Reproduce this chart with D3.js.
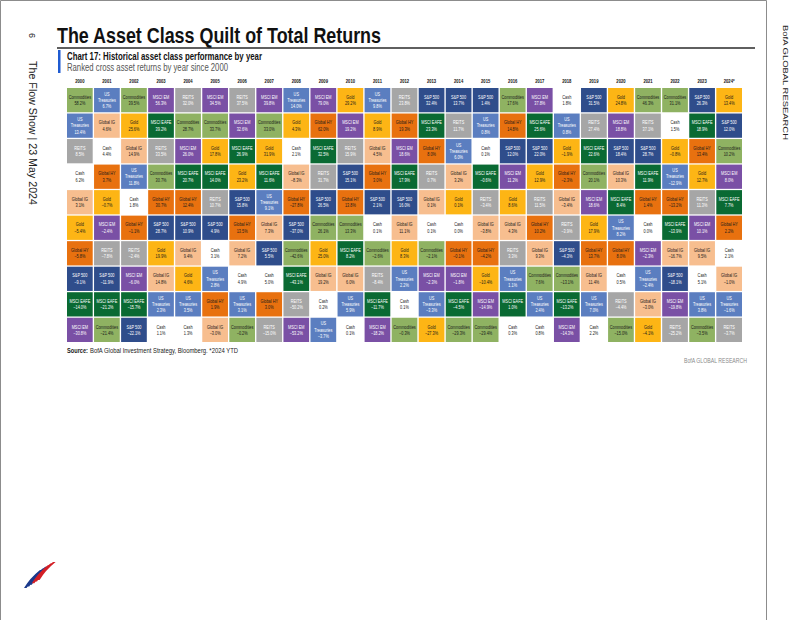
<!DOCTYPE html>
<html>
<head>
<meta charset="utf-8">
<script src="https://cdn.jsdelivr.net/npm/d3@7"></script>
<style>
  html, body { margin: 0; padding: 0; background: #fff; }
  svg { display: block; }
  text { font-family: "Liberation Sans", Arial, sans-serif; }
</style>
</head>
<body>
<div id="chart"></div>
<script>
// years across the top
const years = ["2000","2001","2002","2003","2004","2005","2006","2007","2008","2009",
  "2010","2011","2012","2013","2014","2015","2016","2017","2018","2019",
  "2020","2021","2022","2023","2024*"];

// asset classes
const assetCodes  = ["C", "T", "R", "$", "IG", "G", "HY", "SP", "EA", "EM"];
const assetLabels = ["Commodities", "US|Treasuries", "REITS", "Cash", "Global IG", "Gold", "Global HY", "S&P 500", "MSCI EAFE", "MSCI EM"];
const assetFills  = ["#8fb262", "#5b7ec0", "#a6a6a6", "#ffffff", "#f7be8f", "#fdb515", "#e8710f", "#2f4d8b", "#0a6a33", "#7a50a5"];
const assetInk    = ["#1a1a1a", "#ffffff", "#ffffff", "#1a1a1a", "#1a1a1a", "#1a1a1a", "#1a1a1a", "#ffffff", "#ffffff", "#ffffff"];

// ranking per year, best at top
const rankedAssets = [
  ["C","T","R","$","IG","G","HY","SP","EA","EM"],
  ["T","IG","$","HY","G","EM","R","SP","EA","C"],
  ["C","G","IG","T","$","HY","R","EM","EA","SP"],
  ["EM","EA","R","C","HY","SP","G","IG","T","$"],
  ["R","C","EM","EA","HY","SP","IG","G","T","$"],
  ["EM","C","G","EA","R","SP","$","T","HY","IG"],
  ["R","EM","EA","G","SP","HY","IG","$","T","C"],
  ["EM","C","G","EA","T","IG","SP","$","HY","R"],
  ["T","G","$","IG","HY","SP","C","EA","R","EM"],
  ["EM","HY","EA","R","SP","C","G","IG","$","T"],
  ["G","EM","R","SP","HY","C","EA","IG","T","$"],
  ["T","G","IG","HY","SP","$","C","R","EA","EM"],
  ["R","HY","EM","EA","SP","IG","G","T","$","C"],
  ["SP","EA","HY","R","IG","$","C","EM","T","G"],
  ["SP","R","T","IG","G","$","HY","EM","EA","C"],
  ["SP","T","$","EA","R","IG","HY","G","EM","C"],
  ["C","HY","SP","EM","G","IG","R","T","EA","$"],
  ["EM","EA","SP","G","R","HY","IG","C","T","$"],
  ["$","T","G","HY","IG","R","SP","C","EA","EM"],
  ["SP","R","EA","C","EM","G","HY","IG","T","$"],
  ["G","EM","SP","IG","EA","T","HY","$","R","C"],
  ["C","R","SP","EA","HY","$","EM","T","IG","G"],
  ["C","$","G","T","HY","EA","IG","SP","EM","R"],
  ["SP","EA","HY","G","R","EM","IG","$","T","C"],
  ["G","SP","C","EM","EA","HY","$","IG","T","R"]
];

// total returns (%) in the same order
const rankedReturns = [
  [58.2, 13.4, 8.5, 6.2, 3.1, -5.4, -5.8, -9.1, -14.0, -30.8],
  [6.7, 4.6, 4.4, 3.7, -0.7, -2.4, -7.8, -11.9, -21.2, -21.4],
  [39.5, 25.6, 14.9, 11.8, 1.8, -1.1, -2.4, -6.0, -15.7, -22.1],
  [56.3, 39.2, 33.5, 30.7, 30.7, 28.7, 19.9, 14.8, 2.3, 1.1],
  [32.0, 28.7, 26.0, 20.7, 12.4, 10.9, 9.4, 4.6, 3.5, 1.3],
  [34.5, 33.7, 17.8, 14.0, 10.7, 4.9, 3.1, 2.8, 1.9, -3.0],
  [37.5, 32.6, 26.9, 23.2, 15.8, 13.5, 7.2, 4.9, 3.1, -0.2],
  [39.8, 33.0, 31.9, 11.6, 9.1, 7.3, 5.5, 5.0, 3.0, -15.0],
  [14.0, 4.3, 2.1, -8.3, -27.8, -37.0, -42.6, -43.1, -50.2, -53.2],
  [79.0, 62.0, 32.5, 31.7, 26.5, 26.1, 25.0, 19.2, 0.2, -3.7],
  [29.2, 19.2, 15.9, 15.1, 13.8, 13.3, 8.2, 6.0, 5.9, 0.1],
  [9.8, 8.9, 4.5, 3.0, 2.1, 0.1, -2.6, -8.4, -11.7, -18.2],
  [23.8, 19.3, 18.6, 17.9, 16.0, 11.1, 8.3, 2.2, 0.1, -0.3],
  [32.4, 23.3, 8.0, 0.7, 0.1, 0.1, -2.1, -2.3, -3.3, -27.3],
  [13.7, 11.7, 6.0, 3.2, 0.1, 0.0, -0.1, -1.8, -4.5, -29.3],
  [1.4, 0.8, 0.1, -0.6, -3.4, -3.8, -4.2, -10.4, -14.9, -29.4],
  [17.6, 14.8, 12.0, 11.2, 8.6, 4.3, 3.3, 1.1, 1.0, 0.3],
  [37.8, 25.6, 22.0, 12.9, 11.5, 10.2, 9.3, 7.6, 2.4, 0.8],
  [1.8, 0.8, -1.9, -2.3, -3.4, -3.9, -4.3, -13.1, -13.2, -14.3],
  [31.5, 27.4, 22.6, 20.1, 18.6, 17.9, 13.7, 11.4, 7.0, 2.2],
  [24.8, 18.8, 18.4, 10.3, 8.4, 8.2, 8.0, 0.5, -4.4, -15.0],
  [46.3, 37.1, 28.7, 11.9, 1.4, 0.0, -2.3, -2.4, -3.0, -4.1],
  [31.1, 1.5, -0.8, -12.9, -13.2, -13.9, -16.7, -18.1, -19.8, -25.2],
  [26.3, 18.9, 13.4, 12.7, 11.3, 10.1, 9.5, 5.1, 3.8, -3.5],
  [13.4, 12.0, 10.2, 8.0, 7.7, 2.2, 2.1, -1.0, -1.6, -3.7]
];

const W = 802, H = 620;
const svg = d3.select('#chart').append('svg')
  .attr('width', W).attr('height', H);

// page frame
svg.append('path')
  .attr('d', `M0.5,${H} V0.5 H766.5 V${H}`)
  .attr('fill', 'none').attr('stroke', '#8c8c8c').attr('stroke-width', 1);

// margin texts
svg.append('text')
  .attr('transform', 'translate(29,33) rotate(90)')
  .attr('font-size', 9).attr('font-family', 'DejaVu Sans').attr('fill', '#222')
  .text('6');
svg.append('text')
  .attr('transform', 'translate(29,61) rotate(90)')
  .attr('font-size', 10).attr('font-family', 'DejaVu Sans').attr('fill', '#222')
  .attr('textLength', 144).attr('lengthAdjust', 'spacingAndGlyphs')
  .text('The Flow Show | 23 May 2024');
svg.append('text')
  .attr('transform', 'translate(783,25) rotate(90)')
  .attr('font-size', 7.5).attr('font-family', 'DejaVu Sans').attr('fill', '#222')
  .attr('textLength', 115).attr('lengthAdjust', 'spacingAndGlyphs')
  .text('BofA GLOBAL RESEARCH');

// heading
svg.append('text')
  .attr('x', 57).attr('y', 43)
  .attr('font-size', 22).attr('font-weight', 'bold').attr('fill', '#111')
  .attr('textLength', 324).attr('lengthAdjust', 'spacingAndGlyphs')
  .text('The Asset Class Quilt of Total Returns');
svg.append('line')
  .attr('x1', 57).attr('x2', 755).attr('y1', 48).attr('y2', 48)
  .attr('stroke', '#2a2a2a').attr('stroke-width', 1.3);
svg.append('rect')
  .attr('x', 58).attr('y', 50).attr('width', 2.5).attr('height', 23)
  .attr('fill', '#1f5bd1');
svg.append('text')
  .attr('x', 67).attr('y', 60)
  .attr('font-size', 10.5).attr('font-weight', 'bold').attr('fill', '#111')
  .attr('textLength', 195).attr('lengthAdjust', 'spacingAndGlyphs')
  .text('Chart 17: Historical asset class performance by year');
svg.append('text')
  .attr('x', 67).attr('y', 71)
  .attr('font-size', 10).attr('fill', '#555')
  .attr('textLength', 161).attr('lengthAdjust', 'spacingAndGlyphs')
  .text('Ranked cross asset returns by year since 2000');

// quilt
const x = d3.scaleBand().domain(years).range([67, 742]).paddingInner(0.05);
const y = d3.scaleBand().domain(d3.range(10)).range([88, 342]).paddingInner(0.05);
const fmt = d3.format('.1f');

svg.append('g').selectAll('text')
  .data(years).join('text')
  .attr('transform', d => `translate(${x(d) + x.bandwidth() / 2},83) scale(0.8,1)`)
  .attr('text-anchor', 'middle')
  .attr('font-size', 5.2).attr('font-weight', 'bold').attr('fill', '#111')
  .text(d => d);

const cells = [];
years.forEach((yr, i) => {
  rankedAssets[i].forEach((code, r) => {
    const k = assetCodes.indexOf(code);
    cells.push({ year: yr, rank: r, k: k, value: rankedReturns[i][r] });
  });
});

const cell = svg.append('g').selectAll('g')
  .data(cells).join('g')
  .attr('transform', d => `translate(${x(d.year)},${y(d.rank)})`);

cell.append('rect')
  .attr('width', x.bandwidth()).attr('height', y.bandwidth())
  .attr('fill', d => assetFills[d.k]);

cell.each(function (d) {
  const lines = assetLabels[d.k].split('|').concat([fmt(d.value) + '%']);
  const lh = 6.3;
  const top = y.bandwidth() / 2 - (lines.length - 1) * lh / 2 + 1.8;
  d3.select(this).append('g')
    .attr('transform', `translate(${x.bandwidth() / 2},0) scale(0.74,1)`)
    .selectAll('text').data(lines).join('text')
    .attr('y', (t, j) => top + j * lh)
    .attr('text-anchor', 'middle')
    .attr('font-size', 5.2)
    .attr('fill', assetInk[d.k])
    .text(t => t);
});

// footer
svg.append('text')
  .attr('x', 67).attr('y', 353)
  .attr('font-size', 6.8).attr('font-weight', 'bold').attr('fill', '#222')
  .attr('textLength', 21).attr('lengthAdjust', 'spacingAndGlyphs')
  .text('Source:');
svg.append('text')
  .attr('x', 90).attr('y', 353)
  .attr('font-size', 6.8).attr('fill', '#222')
  .attr('textLength', 148).attr('lengthAdjust', 'spacingAndGlyphs')
  .text('BofA Global Investment Strategy, Bloomberg. *2024 YTD');

svg.append('text')
  .attr('x', 747).attr('y', 363)
  .attr('text-anchor', 'end')
  .attr('font-size', 7).attr('fill', '#8a8a8a')
  .attr('textLength', 63).attr('lengthAdjust', 'spacingAndGlyphs')
  .text('BofA GLOBAL RESEARCH');

// logo
const logo = svg.append('g').attr('transform', 'translate(22,560)');
[0, 1, 2, 3, 4, 5].forEach(i => {
  logo.append('path')
    .attr('d', `M${2 + i * 2.6},${28 - i * 1.6} q6,-10 16,-18 l2.6,0 q-10,8 -16,18 z`)
    .attr('fill', i < 3 ? '#1b3a8c' : '#d31f26');
});
</script>
</body>
</html>
